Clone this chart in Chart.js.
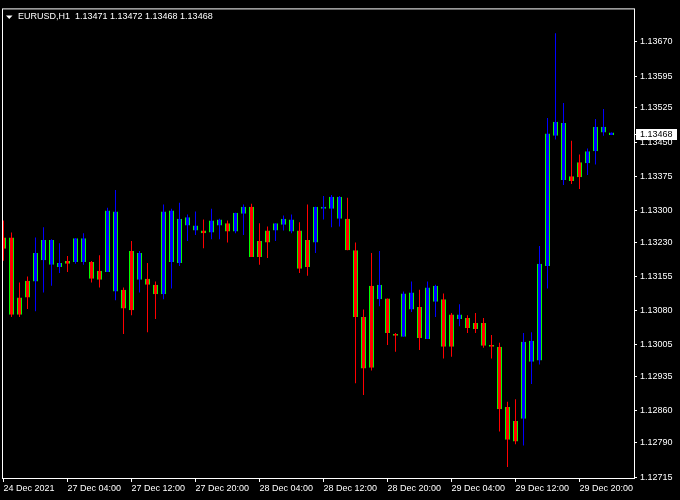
<!DOCTYPE html>
<html>
<head>
<meta charset="utf-8">
<script src="https://cdn.jsdelivr.net/npm/chart.js@4/dist/chart.umd.min.js"></script>
<style>
  html, body { margin: 0; padding: 0; background: #000; }
  canvas { display: block; }
</style>
</head>
<body>
<canvas id="c" width="680" height="500"></canvas>
<script>
// ---- data (EURUSD H1) ----
const symbolTitle = "EURUSD,H1  1.13471 1.13472 1.13468 1.13468";
const lastPrice = 1.13468;

const timeLabels = ["24 Dec 2021", "27 Dec 04:00", "27 Dec 12:00", "27 Dec 20:00", "28 Dec 04:00",
                    "28 Dec 12:00", "28 Dec 20:00", "29 Dec 04:00", "29 Dec 12:00", "29 Dec 20:00"];
const timeLabelBars = [0, 8, 16, 24, 32, 40, 48, 56, 64, 72];

const priceTicks = [1.13670, 1.13595, 1.13525, 1.13450, 1.13375, 1.13300, 1.13230,
                    1.13155, 1.13080, 1.13005, 1.12935, 1.12860, 1.12790, 1.12715];

const openP = [1.13241,1.13241,1.13109,1.13146,1.13144,1.13191,1.13181,1.13176,1.13189,1.13187,
               1.13187,1.13187,1.13168,1.13165,1.13122,1.13126,1.13211,1.13148,1.13150,1.13137,
               1.13116,1.13187,1.13185,1.13267,1.13256,1.13256,1.13252,1.13267,1.13272,1.13254,
               1.13293,1.13308,1.13233,1.13256,1.13256,1.13269,1.13254,1.13256,1.13235,1.13230,
               1.13304,1.13304,1.13282,1.13282,1.13213,1.13066,1.13135,1.13105,1.13107,1.13029,
               1.13023,1.13083,1.13088,1.13018,1.13100,1.13105,1.13072,1.13062,1.13064,1.13053,
               1.13053,1.13005,1.13001,1.12869,1.12838,1.12843,1.12968,1.12971,1.13178,1.13464,
               1.13367,1.13375,1.13406,1.13404,1.13430,1.13471,1.13466];
const highP = [1.13278,1.13252,1.13142,1.13155,1.13241,1.13263,1.13237,1.13228,1.13200,1.13239,
               1.13250,1.13189,1.13202,1.13306,1.13345,1.13131,1.13233,1.13211,1.13185,1.13144,
               1.13313,1.13304,1.13317,1.13291,1.13298,1.13280,1.13304,1.13282,1.13278,1.13295,
               1.13313,1.13315,1.13272,1.13265,1.13272,1.13289,1.13291,1.13274,1.13313,1.13308,
               1.13332,1.13334,1.13332,1.13328,1.13230,1.13083,1.13207,1.13211,1.13107,1.13031,
               1.13122,1.13144,1.13126,1.13144,1.13137,1.13118,1.13075,1.13094,1.13070,1.13075,
               1.13064,1.13027,1.13010,1.12880,1.12886,1.13031,1.13033,1.13222,1.13503,1.13689,
               1.13536,1.13453,1.13423,1.13436,1.13501,1.13523,1.13471];
const lowP  = [1.13190,1.13066,1.13066,1.13084,1.13079,1.13120,1.13135,1.13163,1.13165,1.13183,
               1.13181,1.13142,1.13131,1.13165,1.13103,1.13029,1.13070,1.13120,1.13033,1.13062,
               1.13105,1.13129,1.13178,1.13233,1.13246,1.13217,1.13237,1.13237,1.13230,1.13250,
               1.13246,1.13198,1.13181,1.13196,1.13233,1.13256,1.13250,1.13163,1.13157,1.13207,
               1.13280,1.13263,1.13265,1.13213,1.12921,1.12895,1.12949,1.13090,1.13005,1.12990,
               1.13023,1.13077,1.12994,1.13018,1.13066,1.12975,1.12979,1.13046,1.13031,1.13031,
               1.12999,1.12975,1.12815,1.12737,1.12787,1.12784,1.12919,1.12962,1.13129,1.13456,
               1.13356,1.13358,1.13347,1.13378,1.13401,1.13464,1.13466];
const closeP = [1.13216,1.13071,1.13071,1.13109,1.13207,1.13235,1.13235,1.13185,1.13183,1.13239,
               1.13239,1.13150,1.13148,1.13300,1.13298,1.13085,1.13081,1.13207,1.13137,1.13116,
               1.13298,1.13300,1.13282,1.13285,1.13267,1.13250,1.13278,1.13280,1.13254,1.13295,
               1.13308,1.13198,1.13198,1.13230,1.13272,1.13282,1.13280,1.13172,1.13176,1.13308,
               1.13308,1.13330,1.13330,1.13213,1.13066,1.12953,1.12955,1.13137,1.13031,1.13025,
               1.13118,1.13120,1.13020,1.13131,1.13135,1.13001,1.13001,1.13072,1.13042,1.13040,
               1.13003,1.13001,1.12864,1.12797,1.12793,1.13012,1.13014,1.13183,1.13469,1.13495,
               1.13492,1.13365,1.13373,1.13430,1.13484,1.13484,1.13471];

// ---- styling ----
const BULL = '#0000FF', BEAR = '#FF0000', OUTLINE = '#00FF00', FG = '#FFFFFF';
const FONT = 'Liberation Sans, Arial, sans-serif';
const isBull = openP.map((o, i) => closeP[i] >= o);

const bodies = openP.map((o, i) => ({ x: i, y: [o, closeP[i]] }));
const wicks  = lowP.map((l, i) => ({ x: i, y: [l, highP[i]] }));

const framePlugin = {
  id: 'mtFrame',
  beforeDraw(chart) {
    const ctx = chart.ctx;
    ctx.save();
    ctx.fillStyle = '#000';
    ctx.fillRect(0, 0, chart.width, chart.height);
    ctx.restore();
  },
  afterDraw(chart) {
    const { ctx, chartArea: a } = chart;
    ctx.save();
    ctx.strokeStyle = FG;
    ctx.lineWidth = 1;
    ctx.strokeRect(a.left + 0.5, a.top + 0.5, a.right - a.left, a.bottom - a.top);

    // title with small triangle
    ctx.fillStyle = FG;
    ctx.beginPath();
    ctx.moveTo(a.left + 4, a.top + 7);
    ctx.lineTo(a.left + 10.5, a.top + 7);
    ctx.lineTo(a.left + 7.25, a.top + 10.5);
    ctx.closePath();
    ctx.fill();
    ctx.font = '9px ' + FONT;
    ctx.textBaseline = 'middle';
    ctx.textAlign = 'left';
    ctx.fillText(symbolTitle, a.left + 16, a.top + 8.5);

    // last price box on the price scale
    const ys = chart.scales.y;
    const py = Math.round(ys.getPixelForValue(lastPrice));
    ctx.beginPath();
    ctx.moveTo(a.right, py + 0.5);
    ctx.lineTo(a.right + 3, py + 0.5);
    ctx.stroke();
    ctx.fillStyle = FG;
    ctx.fillRect(a.right + 2, py - 5, 41, 11);
    ctx.fillStyle = '#000';
    ctx.fillText(lastPrice.toFixed(5), a.right + 6, py + 0.5);
    ctx.restore();
  }
};

new Chart(document.getElementById('c'), {
  type: 'bar',
  data: {
    datasets: [
      {
        label: 'body',
        data: bodies,
        order: 0,
        grouped: false,
        barThickness: 5,
        backgroundColor: isBull.map(b => b ? BULL : BEAR),
        borderColor: OUTLINE,
        borderWidth: { left: 1, right: 1, top: 0, bottom: 0 },
        borderSkipped: false,
        inflateAmount: 0
      },
      {
        label: 'wick',
        data: wicks,
        order: 1,
        grouped: false,
        barThickness: 1,
        backgroundColor: isBull.map(b => b ? BULL : BEAR),
        borderWidth: 0,
        inflateAmount: 0
      }
    ]
  },
  options: {
    responsive: false,
    animation: false,
    devicePixelRatio: 1,
    layout: { padding: { left: 2, top: 2, right: 0, bottom: 0 } },
    plugins: { legend: { display: false }, tooltip: { enabled: false }, title: { display: false } },
    scales: {
      x: {
        type: 'linear',
        position: 'bottom',
        offset: false,
        min: -0.1875,
        max: 78.8125,
        afterBuildTicks(scale) { scale.ticks = timeLabelBars.map(v => ({ value: v })); },
        afterFit(scale) { scale.height = 22; },
        grid: { offset: false, drawOnChartArea: false, drawTicks: true, tickLength: 4, color: FG, lineWidth: 1 },
        border: { display: false },
        ticks: {
          autoSkip: false, maxRotation: 0, minRotation: 0, align: 'start', padding: 1,
          color: FG, font: { family: FONT, size: 9 },
          callback(v) { const i = timeLabelBars.indexOf(v); return i >= 0 ? timeLabels[i] : ''; }
        }
      },
      y: {
        type: 'linear',
        position: 'right',
        min: 1.127129,
        max: 1.137436,
        afterBuildTicks(scale) { scale.ticks = priceTicks.map(v => ({ value: v })); },
        afterFit(scale) { scale.width = 46; },
        grid: { drawOnChartArea: false, drawTicks: true, tickLength: 3, color: FG, lineWidth: 1 },
        border: { display: false },
        ticks: {
          autoSkip: false, padding: 3, color: FG, font: { family: FONT, size: 9 },
          callback(v) { return Number(v).toFixed(5); }
        }
      }
    }
  },
  plugins: [framePlugin]
});
</script>
</body>
</html>
